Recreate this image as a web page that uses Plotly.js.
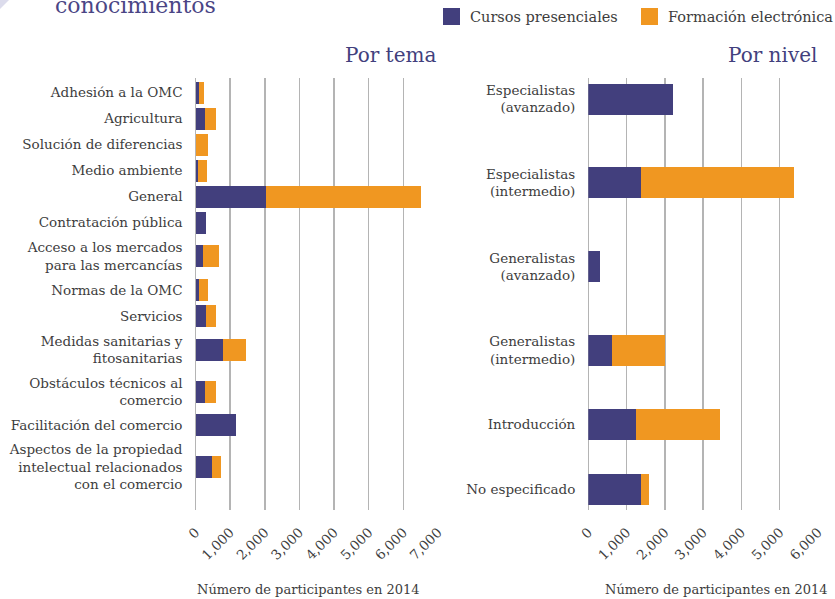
<!DOCTYPE html>
<html>
<head>
<meta charset="utf-8">
<script src="https://cdn.plot.ly/plotly-3.0.1.min.js"></script>
<style>html,body{margin:0;padding:0;background:#fff;}#chart{width:835px;height:599px;}</style>
</head>
<body>
<div id="chart"></div>
<script>
// ---- Data ----
const temaLabels = [
  "Adhesión a la OMC",
  "Agricultura",
  "Solución de diferencias",
  "Medio ambiente",
  "General",
  "Contratación pública",
  "Acceso a los mercados<br>para las mercancías",
  "Normas de la OMC",
  "Servicios",
  "Medidas sanitarias y<br>fitosanitarias",
  "Obstáculos técnicos al<br>comercio",
  "Facilitación del comercio",
  "Aspectos de la propiedad<br>intelectual relacionados<br>con el comercio"
];
const temaPresenciales = [100, 260, 0, 60, 2030, 290, 230, 90, 290, 780, 260, 1180, 490];
const temaElectronica  = [150, 320, 375, 285, 4470, 0, 460, 285, 315, 690, 345, 0, 260];

const nivelLabels = [
  "Especialistas<br>(avanzado)",
  "Especialistas<br>(intermedio)",
  "Generalistas<br>(avanzado)",
  "Generalistas<br>(intermedio)",
  "Introducción",
  "No especificado"
];
const nivelPresenciales = [2210, 1377, 306, 619, 1246, 1377];
const nivelElectronica  = [0, 3990, 0, 1385, 2195, 210];

const seriesNames = ["Cursos presenciales", "Formación electrónica"];
const xTitle = "Número de participantes en 2014";

// ---- Styles / layout helpers ----
const W = 835, H = 599;
const PURPLE = "#423f7d", ORANGE = "#f09721", GRID = "#b4b4b4", TXT = "#3d3d3d";
const FONT = "DejaVu Serif, serif";

function rowPositions(labels, extraPerLine) {
  const lines = labels.map(l => l.split("<br>").length - 1);
  const pos = [0];
  for (let i = 1; i < labels.length; i++) {
    pos.push(pos[i - 1] + 1 + extraPerLine * (lines[i - 1] + lines[i]));
  }
  return pos;
}
function yRange(pos, firstPx, lastPx, topPx, botPx) {
  const last = pos[pos.length - 1];
  const s = (lastPx - firstPx) / last;
  return { range: [last + (botPx - lastPx) / s, -(firstPx - topPx) / s], s: s };
}

const posT = rowPositions(temaLabels, 0.3);
const posN = rowPositions(nivelLabels, 0.15);
const topPx = 78, botPx = 510;
const rT = yRange(posT, 92.5, 467, topPx, botPx);
const rN = yRange(posN, 99, 489, topPx, botPx);

const traces = [
  { type: "bar", orientation: "h", name: seriesNames[0], x: temaPresenciales, y: posT,
    width: 22 / rT.s, marker: { color: PURPLE }, xaxis: "x", yaxis: "y", hoverinfo: "x" },
  { type: "bar", orientation: "h", name: seriesNames[1], x: temaElectronica, y: posT,
    width: 22 / rT.s, marker: { color: ORANGE }, xaxis: "x", yaxis: "y", hoverinfo: "x" },
  { type: "bar", orientation: "h", name: seriesNames[0], x: nivelPresenciales, y: posN,
    width: 31 / rN.s, marker: { color: PURPLE }, xaxis: "x2", yaxis: "y2", hoverinfo: "x" },
  { type: "bar", orientation: "h", name: seriesNames[1], x: nivelElectronica, y: posN,
    width: 31 / rN.s, marker: { color: ORANGE }, xaxis: "x2", yaxis: "y2", hoverinfo: "x" }
];

const yDom = [1 - botPx / H, 1 - topPx / H];
const xAxisCommon = {
  dtick: 1000, tickformat: ",d", tickangle: -45, showgrid: true, gridcolor: GRID, gridwidth: 1.5,
  zeroline: true, zerolinecolor: GRID, zerolinewidth: 1.5, showline: false, ticks: "",
  tickfont: { family: FONT, size: 13.5, color: TXT }, ticklabelstandoff: 11, fixedrange: true
};
const yAxisCommon = {
  showgrid: false, zeroline: false, showline: false, ticks: "", ticklabelstandoff: 12,
  tickfont: { family: FONT, size: 13.5, color: TXT }, fixedrange: true
};

// legend drawn as key squares + labels
function px(x) { return x / W; }
function py(y) { return 1 - y / H; }
const legendItems = [
  { name: seriesNames[0], color: PURPLE, x: 443 },
  { name: seriesNames[1], color: ORANGE, x: 641 }
];
const legendShapes = legendItems.map(it => ({
  type: "rect", xref: "paper", yref: "paper", x0: px(it.x), x1: px(it.x + 17), y0: py(25), y1: py(8),
  fillcolor: it.color, line: { width: 0 }
}));
const legendAnn = legendItems.map(it => ({
  text: it.name, xref: "paper", yref: "paper", x: px(it.x + 25), y: py(17), xanchor: "left", yanchor: "middle",
  showarrow: false, font: { family: FONT, size: 14.5, color: TXT }
}));

const layout = {
  width: W, height: H,
  margin: { l: 0, r: 0, t: 0, b: 0 },
  paper_bgcolor: "#fff", plot_bgcolor: "rgba(0,0,0,0)",
  barmode: "stack", bargap: 0,
  showlegend: false,
  xaxis: Object.assign({}, xAxisCommon, { domain: [195.5 / W, 438 / W], range: [0, 7000], anchor: "y" }),
  yaxis: Object.assign({}, yAxisCommon, { domain: yDom, range: rT.range, tickvals: posT, ticktext: temaLabels, anchor: "x" }),
  xaxis2: Object.assign({}, xAxisCommon, { domain: [588.3 / W, 818 / W], range: [0, 6000], anchor: "y2" }),
  yaxis2: Object.assign({}, yAxisCommon, { domain: yDom, range: rN.range, tickvals: posN, ticktext: nivelLabels, anchor: "x2" }),
  annotations: [
    { text: "Por tema", xref: "paper", yref: "paper", x: px(438), y: py(55), xanchor: "right", yanchor: "middle",
      showarrow: false, font: { family: FONT, size: 20, color: PURPLE } },
    { text: "Por nivel", xref: "paper", yref: "paper", x: px(819), y: py(55), xanchor: "right", yanchor: "middle",
      showarrow: false, font: { family: FONT, size: 20, color: PURPLE } },
    { text: xTitle, xref: "paper", yref: "paper", x: px(308), y: py(589), xanchor: "center", yanchor: "middle",
      showarrow: false, font: { family: FONT, size: 13, color: TXT } },
    { text: xTitle, xref: "paper", yref: "paper", x: px(716), y: py(589), xanchor: "center", yanchor: "middle",
      showarrow: false, font: { family: FONT, size: 13, color: TXT } },
    { text: "conocimientos", xref: "paper", yref: "paper", x: px(53), y: py(6), xanchor: "left", yanchor: "middle",
      showarrow: false, font: { family: FONT, size: 22, color: "#4a4585" } }
  ].concat(legendAnn),
  shapes: [
    { type: "path", xref: "paper", yref: "paper", path: "M 0 1 L " + px(9) + " 1 L 0 " + py(9) + " Z",
      fillcolor: "#dcdcec", line: { width: 0 } }
  ].concat(legendShapes)
};

Plotly.newPlot("chart", traces, layout, { displayModeBar: false, staticPlot: true });
</script>
</body>
</html>
